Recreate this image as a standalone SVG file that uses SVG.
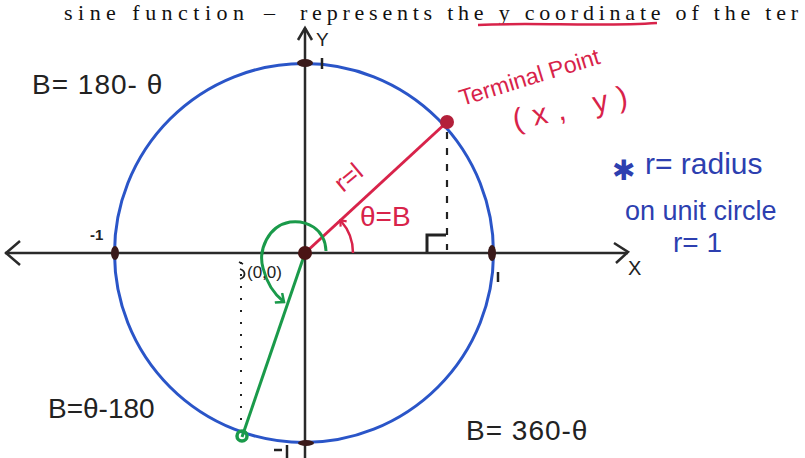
<svg xmlns="http://www.w3.org/2000/svg" width="805" height="458" viewBox="0 0 805 458">
<defs>
<style>
.hand{font-family:"Liberation Sans","DejaVu Sans",sans-serif;}
.blk{fill:#222;}
.red{fill:#d8234a;}
.blu{fill:#2d3fb0;}
.ax{stroke:#2a2a2a;stroke-width:2.5;fill:none;}
.head{font-family:"Liberation Serif","Times New Roman",serif;font-size:22px;fill:#111;}
</style>
<marker id="redArrow" markerWidth="10" markerHeight="10" refX="5" refY="5" orient="auto" markerUnits="userSpaceOnUse">
<path d="M1,1 L6,5 L1,9" fill="none" stroke="#d8234a" stroke-width="2.2"/>
</marker>
<marker id="greenArrow" markerWidth="14" markerHeight="14" refX="8" refY="7" orient="auto" markerUnits="userSpaceOnUse">
<path d="M1,1 L8,7 L1,13" fill="none" stroke="#1a9a4a" stroke-width="2.5"/>
</marker>
</defs>
<rect width="805" height="458" fill="#ffffff"/>

<g id="header">
<text class="head" x="64" y="20" textLength="180" lengthAdjust="spacing">sine function</text>
<text class="head" x="264" y="20">–</text>
<text class="head" x="300" y="20" textLength="498" lengthAdjust="spacing">represents the y coordinate of the ter</text>
<path d="M478,25 C530,22 600,27 657,23" fill="none" stroke="#d8234a" stroke-width="2.5"/>
</g>

<g id="axes">
<line class="ax" x1="5" y1="253" x2="628" y2="253"/>
<path class="ax" d="M20,241 L6,253 L20,265"/>
<path class="ax" d="M614,243 L628,252 L616,263"/>
<line class="ax" x1="305" y1="28" x2="305" y2="458"/>
<path class="ax" d="M298,40 L305,28 L312,40"/>
<text class="hand blk" x="316" y="46" font-size="19">Y</text>
<text class="hand blk" x="628" y="275" font-size="20">X</text>
</g>

<g id="unit-circle">
<circle cx="304" cy="253" r="189.5" fill="none" stroke="#2a55c8" stroke-width="3"/>
<ellipse cx="115" cy="253" rx="4" ry="7" fill="#3a1a1a"/>
<ellipse cx="492" cy="253" rx="4" ry="8" fill="#3a1a1a"/>
<ellipse cx="305" cy="63" rx="8" ry="4" fill="#3a1a1a"/>
<ellipse cx="306" cy="443" rx="8" ry="3" fill="#3a1a1a"/>
<text class="hand blk" x="90" y="240" font-size="15" font-weight="bold">-1</text>
<line x1="498" y1="272" x2="498" y2="282" stroke="#222" stroke-width="2.5"/>
<line x1="322" y1="58" x2="322" y2="69" stroke="#222" stroke-width="2.5"/>
<line x1="274" y1="450" x2="282" y2="450" stroke="#222" stroke-width="2.5"/>
<line x1="287" y1="445" x2="287" y2="458" stroke="#222" stroke-width="2.5"/>
</g>

<g id="connectors">
<line x1="305" y1="253" x2="447" y2="122" stroke="#d8234a" stroke-width="3"/>
<path d="M353,253 A48,48 0 0 0 341,221" fill="none" stroke="#d8234a" stroke-width="2.5" marker-end="url(#redArrow)"/>
<line x1="447" y1="132" x2="447" y2="250" stroke="#222" stroke-width="2.2" stroke-dasharray="7 9"/>
<path d="M427,252 L427,235 L446,235" fill="none" stroke="#222" stroke-width="3"/>
<line x1="305" y1="253" x2="242" y2="437" stroke="#1a9a4a" stroke-width="3"/>
<path d="M326,251 C325,228 306,220 290,222 C268,226 258,250 263,268 C267,284 275,295 284,302" fill="none" stroke="#1a9a4a" stroke-width="3" marker-end="url(#greenArrow)"/>
<line x1="241" y1="262" x2="241" y2="430" stroke="#222" stroke-width="2" stroke-dasharray="2 10"/>
</g>

<g id="origin">
<circle cx="305" cy="253" r="7" fill="#4a1414"/>
<path d="M239,262 L243,264 M240,269 C246,271 246,277 240,279" fill="none" stroke="#222" stroke-width="1.8"/>
<text class="hand blk" x="247" y="278" font-size="17">(0,0)</text>
</g>

<g id="terminal-point">
<circle cx="447" cy="122" r="7" fill="#b3203a"/>
<text class="hand red" x="462" y="106" font-size="23" transform="rotate(-17 462 106)">Terminal Point</text>
<text class="hand red" x="515" y="130" font-size="30" letter-spacing="10" transform="rotate(-12 515 130)">(x, y)</text>
<text class="hand red" x="343" y="193" font-size="25" transform="rotate(-40 343 193)">r=l</text>
<text class="hand red" x="360" y="226" font-size="28">θ=B</text>
</g>

<g id="green-point">
<circle cx="242" cy="436" r="5" fill="none" stroke="#1a9a4a" stroke-width="3.5"/>
</g>

<g id="labels">
<text class="hand blk" x="32" y="94" font-size="28" letter-spacing="1">B= 180- θ</text>
<text class="hand blk" x="48" y="418" font-size="28">B=θ-180</text>
<text class="hand blk" x="466" y="440" font-size="28" letter-spacing="1">B= 360-θ</text>
</g>

<g id="note">
<text class="hand blu" x="612" y="180" font-size="28">✱</text>
<text class="hand blu" x="645" y="174" font-size="30">r= radius</text>
<text class="hand blu" x="625" y="220" font-size="27">on unit circle</text>
<text class="hand blu" x="673" y="252" font-size="28">r= 1</text>
</g>
</svg>
